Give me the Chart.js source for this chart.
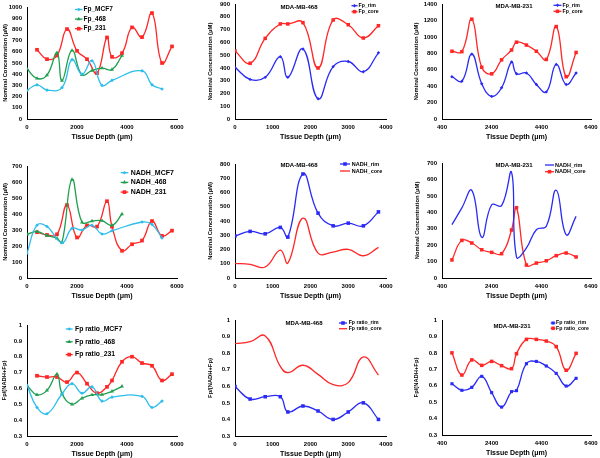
<!DOCTYPE html>
<html>
<head>
<meta charset="utf-8">
<script src="https://cdn.jsdelivr.net/npm/chart.js@4.4.0/dist/chart.umd.min.js"></script>
<style>
  body { margin: 0; background: #fff; width: 600px; height: 458px; position: relative; overflow: hidden; }
  canvas { position: absolute; }
</style>
</head>
<body>
<canvas id="p1"></canvas><canvas id="p2"></canvas><canvas id="p3"></canvas>
<canvas id="p4"></canvas><canvas id="p5"></canvas><canvas id="p6"></canvas>
<canvas id="p7"></canvas><canvas id="p8"></canvas><canvas id="p9"></canvas>
<script>
// tissue depths (um)
const depthMCF7 = [0, 400, 800, 1400, 1800, 2200, 2600, 3000, 3400, 4600, 5000, 5400];
const depth468 = [0, 400, 800, 1200, 1400, 1800, 2200, 2600, 3000, 3400, 3800];
const depth231 = [400, 800, 1200, 1600, 2000, 2400, 2800, 3200, 3400, 3800, 4200, 4600, 5000, 5400, 5800];
const depth231RC = [800, 1200, 1600, 2000, 2400, 2800, 3200, 3400, 3800, 4200, 4600, 5000, 5400, 5800];

// Fp (uM)
const fpMCF7 = [255, 305, 258, 280, 530, 400, 520, 300, 345, 430, 305, 268];
const fp468 = [448, 362, 391, 591, 343, 612, 394, 433, 454, 442, 565];
const fp231 = [618, 534, 567, 803, 609, 534, 409, 728, 555, 588, 818, 731, 946, 500, 648];
const fpRim468 = [404, 310, 326, 488, 326, 548, 159, 410, 450, 370, 518];
const fpCore468 = [532, 436, 631, 744, 744, 754, 399, 775, 738, 634, 730];
const fpRim231 = [515, 460, 790, 430, 275, 380, 695, 550, 560, 420, 330, 665, 420, 560];
const fpCore231 = [825, 820, 1215, 630, 550, 720, 840, 935, 900, 825, 725, 1125, 515, 810];

// NADH (uM)
const nadhMCF7 = [155, 330, 322, 220, 310, 300, 330, 275, 295, 350, 335, 250];
const nadh468 = [273, 290, 265, 248, 222, 615, 348, 356, 358, 329, 400];
const nadh231 = [286, 269, 273, 456, 253, 329, 321, 480, 321, 170, 211, 234, 356, 263, 296];
const nadhRim468 = [294, 327, 310, 355, 287, 730, 455, 366, 385, 366, 464];
const nadhCore468 = [103, 96, 77, 196, 105, 420, 175, 182, 201, 156, 215];
const nadhRim231 = [325, 427, 533, 248, 446, 440, 643, 128, 183, 294, 315, 534, 264, 375];
const nadhCore231 = [110, 229, 213, 172, 156, 148, 292, 428, 79, 91, 105, 136, 152, 128];

// redox ratio Fp/(NADH+Fp)
const ratioMCF7 = [0.62, 0.48, 0.44, 0.565, 0.63, 0.57, 0.61, 0.52, 0.545, 0.55, 0.48, 0.52];
const ratio468 = [0.618, 0.56, 0.588, 0.69, 0.567, 0.50, 0.538, 0.559, 0.561, 0.582, 0.613];
const ratio231 = [0.68, 0.672, 0.672, 0.64, 0.70, 0.63, 0.57, 0.61, 0.65, 0.768, 0.80, 0.76, 0.743, 0.65, 0.69];
const ratioRim468 = [0.598, 0.523, 0.537, 0.537, 0.445, 0.481, 0.451, 0.40, 0.445, 0.50, 0.40];
const ratioCore468 = [0.857, 0.869, 0.904, 0.72, 0.682, 0.727, 0.672, 0.61, 0.622, 0.777, 0.668];
const ratioRim231 = [0.612, 0.572, 0.59, 0.657, 0.558, 0.47, 0.564, 0.57, 0.734, 0.748, 0.72, 0.675, 0.598, 0.645];
const ratioCore231 = [0.80, 0.665, 0.757, 0.724, 0.748, 0.722, 0.704, 0.795, 0.882, 0.882, 0.872, 0.838, 0.694, 0.797];

const FONT = "'Liberation Sans', Arial, sans-serif";
const CYAN = '#2DBDEB', GREEN = '#1F9F4F', RED = '#FF2626', BLUE = '#2A2AF5';

function series(label, xs, ys, color, style, radius) {
  return {
    label: label,
    data: xs.map((x, i) => ({ x: x, y: ys[i] })),
    borderColor: color, backgroundColor: color, borderWidth: 1.3,
    pointStyle: style || 'circle', pointRadius: radius || 0,
    pointBackgroundColor: color, pointBorderColor: color, pointBorderWidth: 0,
    tension: 0.45, fill: false
  };
}

function marker(ctx, ds, x, y) {
  if (!ds.pointRadius) return;
  ctx.fillStyle = ds.borderColor;
  ctx.strokeStyle = ds.borderColor;
  if (Chart.helpers && Chart.helpers.drawPoint) {
    Chart.helpers.drawPoint(ctx, { pointStyle: ds.pointStyle, radius: ds.pointRadius, rotation: 0, borderWidth: 0 }, x, y);
  } else {
    const r = ds.pointRadius * 0.7;
    ctx.fillRect(x - r, y - r, 2 * r, 2 * r);
  }
}

// panel title + legend drawn inside the plot, like the original
const overlay = {
  id: 'overlay',
  afterDraw(chart, args, opts) {
    const ctx = chart.ctx;
    const ox = opts.origin[0], oy = opts.origin[1];
    ctx.save();
    ctx.textBaseline = 'middle';
    if (opts.title) {
      const t = opts.title;
      ctx.font = 'bold ' + t.size + 'px ' + FONT;
      ctx.fillStyle = '#000';
      ctx.textAlign = 'center';
      ctx.fillText(t.text, t.x - ox, t.y - oy);
    }
    if (opts.legend) {
      const L = opts.legend;
      chart.data.datasets.forEach((ds, i) => {
        const y = L.y + i * L.gap - oy;
        const x0 = L.x - ox;
        ctx.strokeStyle = ds.borderColor;
        ctx.lineWidth = ds.borderWidth;
        ctx.beginPath();
        ctx.moveTo(x0, y);
        ctx.lineTo(x0 + L.len, y);
        ctx.stroke();
        marker(ctx, ds, x0 + L.len / 2, y);
        ctx.font = 'bold ' + L.size + 'px ' + FONT;
        ctx.fillStyle = '#000';
        ctx.textAlign = 'left';
        ctx.fillText(ds.label, x0 + L.len + L.space, y);
      });
    }
    ctx.restore();
  }
};

function fmt(v) { return String(+v.toFixed(1)); }

function makePanel(id, colLeft, rowTop, area, xAxis, yAxis, datasets, extras) {
  const l = area[0], t = area[1], r = area[2], b = area[3];
  const w = 200, h = b - rowTop + 22;
  const cv = document.getElementById(id);
  cv.style.left = colLeft + 'px';
  cv.style.top = rowTop + 'px';
  cv.style.width = w + 'px';
  cv.style.height = h + 'px';
  cv.width = w;
  cv.height = h;
  const yw = l - colLeft;
  const tickFont = { family: FONT, size: 6, weight: 'bold' };
  new Chart(cv.getContext('2d'), {
    type: 'line',
    data: { datasets: datasets },
    options: {
      responsive: false, animation: false, devicePixelRatio: 1,
      layout: { padding: { left: 0, top: t - rowTop, right: colLeft + w - r, bottom: 0 } },
      plugins: {
        legend: { display: false },
        tooltip: { enabled: false },
        overlay: Object.assign({ origin: [colLeft, rowTop] }, extras)
      },
      scales: {
        x: {
          type: 'linear', min: xAxis.min, max: xAxis.max,
          ticks: { stepSize: xAxis.step, padding: 5, color: '#000', font: tickFont, maxRotation: 0, autoSkip: false, callback: fmt },
          grid: { display: true, color: 'rgba(0,0,0,0)', drawTicks: false },
          border: { display: true, color: '#000', width: 1 },
          title: { display: true, text: 'Tissue Depth (μm)', color: '#000', font: { family: FONT, size: 7, weight: 'bold' }, padding: 0 },
          afterFit: s => { s.height = 22; s.paddingLeft = 0; s.paddingRight = 0; }
        },
        y: {
          type: 'linear', min: yAxis.min, max: yAxis.max,
          ticks: { stepSize: yAxis.step, padding: 5, color: '#000', font: tickFont, autoSkip: false, callback: fmt },
          grid: { display: true, color: 'rgba(0,0,0,0)', drawTicks: false },
          border: { display: true, color: '#000', width: 1 },
          title: { display: true, text: yAxis.title, color: '#000', font: { family: FONT, size: 5.8, weight: 'bold' }, padding: { top: yAxis.titleX - colLeft - 3.5, bottom: 0 } },
          afterFit: s => { s.width = yw; s.paddingTop = 0; s.paddingBottom = 0; }
        }
      }
    },
    plugins: [overlay]
  });
}

const CONC = 'Nominal Concentration (μM)';
const RATIO = 'Fp/(NADH+Fp)';
const xAll = { min: 0, max: 6000, step: 2000 };
const x468 = { min: 0, max: 4000, step: 1000 };
const x231 = { min: 400, max: 6400, step: 2000 };

// row 1: Fp
makePanel('p1', 0, 0, [27, 7, 177, 119], xAll,
  { min: 0, max: 1000, step: 100, title: CONC, titleX: 5 },
  [series('Fp_MCF7', depthMCF7, fpMCF7, CYAN, 'rectRot', 1.8),
   series('Fp_468', depth468, fp468, GREEN, 'triangle', 2.3),
   series('Fp_231', depth231, fp231, RED, 'rect', 2.6)],
  { legend: { x: 75, y: 9.5, gap: 9.6, len: 7.5, space: 1, size: 6.5 } });

makePanel('p2', 200, 0, [235, 4, 386, 119], x468,
  { min: 0, max: 900, step: 100, title: CONC, titleX: 210 },
  [series('Fp_rim', depth468, fpRim468, BLUE, 'rectRot', 1.7),
   series('Fp_core', depth468, fpCore468, RED, 'rect', 2.5)],
  { title: { text: 'MDA-MB-468', x: 299, y: 7, size: 6 },
    legend: { x: 351.5, y: 5.7, gap: 6, len: 6, space: 1, size: 5.2 } });

makePanel('p3', 400, 0, [442, 4, 591, 119], x231,
  { min: 0, max: 1400, step: 200, title: CONC, titleX: 416 },
  [series('Fp_rim', depth231RC, fpRim231, BLUE, 'rectRot', 1.7),
   series('Fp_core', depth231RC, fpCore231, RED, 'rect', 2.5)],
  { title: { text: 'MDA-MB-231', x: 514, y: 6.7, size: 6 },
    legend: { x: 553.5, y: 5.3, gap: 6, len: 8, space: 1, size: 5.2 } });

// row 2: NADH
makePanel('p4', 0, 150, [27, 166, 177, 278], xAll,
  { min: 0, max: 700, step: 100, title: CONC, titleX: 5 },
  [series('NADH_MCF7', depthMCF7, nadhMCF7, CYAN, 'rectRot', 1.8),
   series('NADH_468', depth468, nadh468, GREEN, 'triangle', 2.3),
   series('NADH_231', depth231, nadh231, RED, 'rect', 2.6)],
  { legend: { x: 120.7, y: 172.7, gap: 9.7, len: 7.6, space: 2.4, size: 7 } });

makePanel('p5', 200, 150, [235, 164, 386, 278], x468,
  { min: 0, max: 800, step: 100, title: CONC, titleX: 210 },
  [series('NADH_rim', depth468, nadhRim468, BLUE, 'rect', 2.5),
   series('NADH_core', depth468, nadhCore468, RED, 'circle', 0)],
  { title: { text: 'MDA-MB-468', x: 299, y: 165, size: 6 },
    legend: { x: 340, y: 164, gap: 7, len: 10, space: 1.7, size: 5.5 } });

makePanel('p6', 400, 150, [442, 163, 591, 278], x231,
  { min: 0, max: 700, step: 100, title: CONC, titleX: 417 },
  [series('NADH_rim', depth231RC, nadhRim231, BLUE, 'circle', 0),
   series('NADH_core', depth231RC, nadhCore231, RED, 'rect', 2.5)],
  { title: { text: 'MDA-MB-231', x: 514, y: 165, size: 6 },
    legend: { x: 545, y: 165, gap: 6.7, len: 9, space: 1, size: 5.5 } });

// row 3: redox ratio
makePanel('p7', 0, 303, [27, 325, 177, 436], xAll,
  { min: 0.3, max: 1, step: 0.1, title: RATIO, titleX: 4 },
  [series('Fp ratio_MCF7', depthMCF7, ratioMCF7, CYAN, 'rectRot', 1.8),
   series('Fp ratio_468', depth468, ratio468, GREEN, 'triangle', 2.3),
   series('Fp ratio_231', depth231, ratio231, RED, 'rect', 2.6)],
  { legend: { x: 65.7, y: 329, gap: 12.8, len: 7, space: 2.3, size: 6.8 } });

makePanel('p8', 200, 303, [235, 320, 386, 436], x468,
  { min: 0.3, max: 1, step: 0.1, title: RATIO, titleX: 210 },
  [series('Fp ratio_rim', depth468, ratioRim468, BLUE, 'rect', 2.5),
   series('Fp ratio_core', depth468, ratioCore468, RED, 'circle', 0)],
  { title: { text: 'MDA-MB-468', x: 304, y: 323, size: 6 },
    legend: { x: 339, y: 323, gap: 5.7, len: 8, space: 1.7, size: 5.2 } });

makePanel('p9', 400, 303, [442, 320, 591, 435], x231,
  { min: 0.3, max: 1, step: 0.1, title: RATIO, titleX: 416 },
  [series('Fp ratio_rim', depth231RC, ratioRim231, BLUE, 'rect', 2.2),
   series('Fp ratio_core', depth231RC, ratioCore231, RED, 'rect', 2.5)],
  { title: { text: 'MDA-MB-231', x: 512, y: 326, size: 6 },
    legend: { x: 550.7, y: 323, gap: 5.3, len: 4.7, space: 0.7, size: 5.2 } });
</script>
</body>
</html>
